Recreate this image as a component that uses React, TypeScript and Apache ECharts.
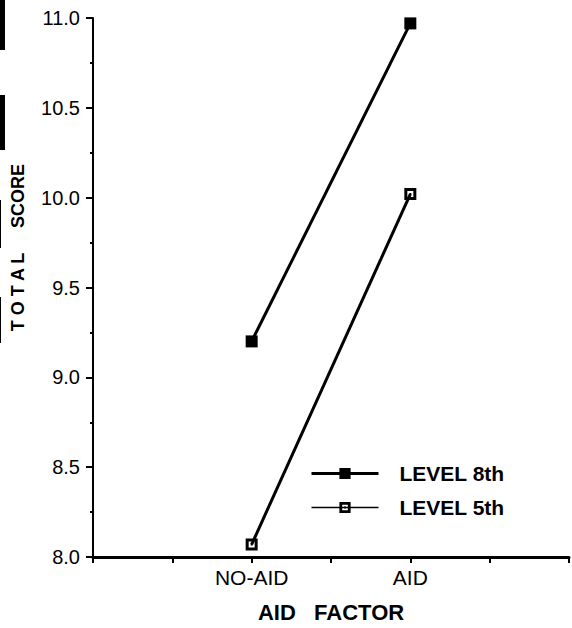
import React, { useEffect, useRef } from "react";
import * as echarts from "echarts";

const xCategories = ["", "", "NO-AID", "", "AID", "", ""];
const yTicks = [8.0, 8.5, 9.0, 9.5, 10.0, 10.5, 11.0];
const level8 = [9.2, 10.97];
const level5 = [8.07, 10.02];
const levelPositions = [2, 4];
const seriesNames = ["LEVEL 8th", "LEVEL 5th"];

const FONT = "'Liberation Sans', Arial, Helvetica, sans-serif";
const OPEN_SQ = "path://M0 0 H12 V12 H0 Z M3 3 V9 H9 V3 Z M5 5 H7 V7 H5 Z";

export default function App() {
  const ref = useRef<HTMLDivElement>(null);
  useEffect(() => {
    if (!ref.current) return;
    const chart = echarts.init(ref.current, undefined, { renderer: "svg" });
    chart.setOption({
      animation: false,
      backgroundColor: "#ffffff",
      grid: { left: 93, right: 2, top: 18, bottom: 69, containLabel: false },
      xAxis: {
        type: "value",
        min: 0,
        max: 6,
        interval: 1,
        name: "AID   FACTOR",
        nameLocation: "middle",
        nameGap: 44,
        nameTextStyle: { fontFamily: FONT, fontSize: 22, fontWeight: "bold", color: "#000" },
        axisLine: { show: true, onZero: false, lineStyle: { color: "#000", width: 3 } },
        axisTick: { show: true, inside: false, length: 6, lineStyle: { color: "#000", width: 2 } },
        axisLabel: {
          fontFamily: FONT,
          fontSize: 21,
          color: "#000",
          margin: 10,
          formatter: (v: number) => xCategories[Math.round(v)] || "",
        },
        splitLine: { show: false },
      },
      yAxis: {
        type: "value",
        min: yTicks[0],
        max: yTicks[yTicks.length - 1],
        interval: 0.5,
        axisLine: { show: true, lineStyle: { color: "#000", width: 2 } },
        axisTick: { show: true, length: 7, lineStyle: { color: "#000", width: 2 } },
        minorTick: { show: true, splitNumber: 2, length: 3, lineStyle: { color: "#000", width: 2 } },
        axisLabel: {
          fontFamily: FONT,
          fontSize: 20,
          color: "#000",
          margin: 13,
          formatter: (v: number) => v.toFixed(1),
        },
        splitLine: { show: false },
      },
      legend: {
        orient: "vertical",
        left: 305,
        top: 458,
        itemWidth: 67,
        itemHeight: 14,
        itemGap: 13,
        data: [
          { name: seriesNames[0], lineStyle: { width: 3 } },
          { name: seriesNames[1], lineStyle: { width: 1.5 } },
        ],
        textStyle: { fontFamily: FONT, fontSize: 21, fontWeight: "bold", color: "#000", padding: [0, 0, 0, 16] },
      },
      graphic: [
        {
          type: "text",
          x: 18,
          y: 196,
          rotation: Math.PI / 2,
          style: {
            text: "SCORE",
            fontFamily: FONT,
            fontSize: 18,
            fontWeight: "bold",
            fill: "#000",
            align: "center",
            verticalAlign: "middle",
          },
        },
        {
          type: "text",
          x: 18,
          y: 292,
          rotation: Math.PI / 2,
          style: {
            text: "T O T A L",
            fontFamily: FONT,
            fontSize: 18,
            fontWeight: "bold",
            fill: "#000",
            align: "center",
            verticalAlign: "middle",
          },
        },
        { type: "rect", shape: { x: 0, y: 0, width: 5, height: 50 }, style: { fill: "#000" } },
        { type: "rect", shape: { x: 0, y: 95, width: 5, height: 55 }, style: { fill: "#000" } },
        { type: "rect", shape: { x: 0, y: 200, width: 1, height: 48 }, style: { fill: "#000" } },
        { type: "rect", shape: { x: 0, y: 297, width: 1, height: 46 }, style: { fill: "#000" } },
      ],
      series: [
        {
          name: seriesNames[0],
          type: "line",
          data: levelPositions.map((x, i) => [x, level8[i]]),
          symbol: "rect",
          symbolSize: 12,
          itemStyle: { color: "#000" },
          lineStyle: { color: "#000", width: 3 },
        },
        {
          name: seriesNames[1],
          type: "line",
          data: levelPositions.map((x, i) => [x, level5[i]]),
          symbol: OPEN_SQ,
          symbolSize: 12,
          itemStyle: { color: "#000" },
          lineStyle: { color: "#000", width: 3 },
        },
      ],
    });
    return () => chart.dispose();
  }, []);
  return (
    <div
      ref={ref}
      style={{ position: "fixed", left: 0, top: 0, width: 572, height: 628, background: "#fff" }}
    />
  );
}
